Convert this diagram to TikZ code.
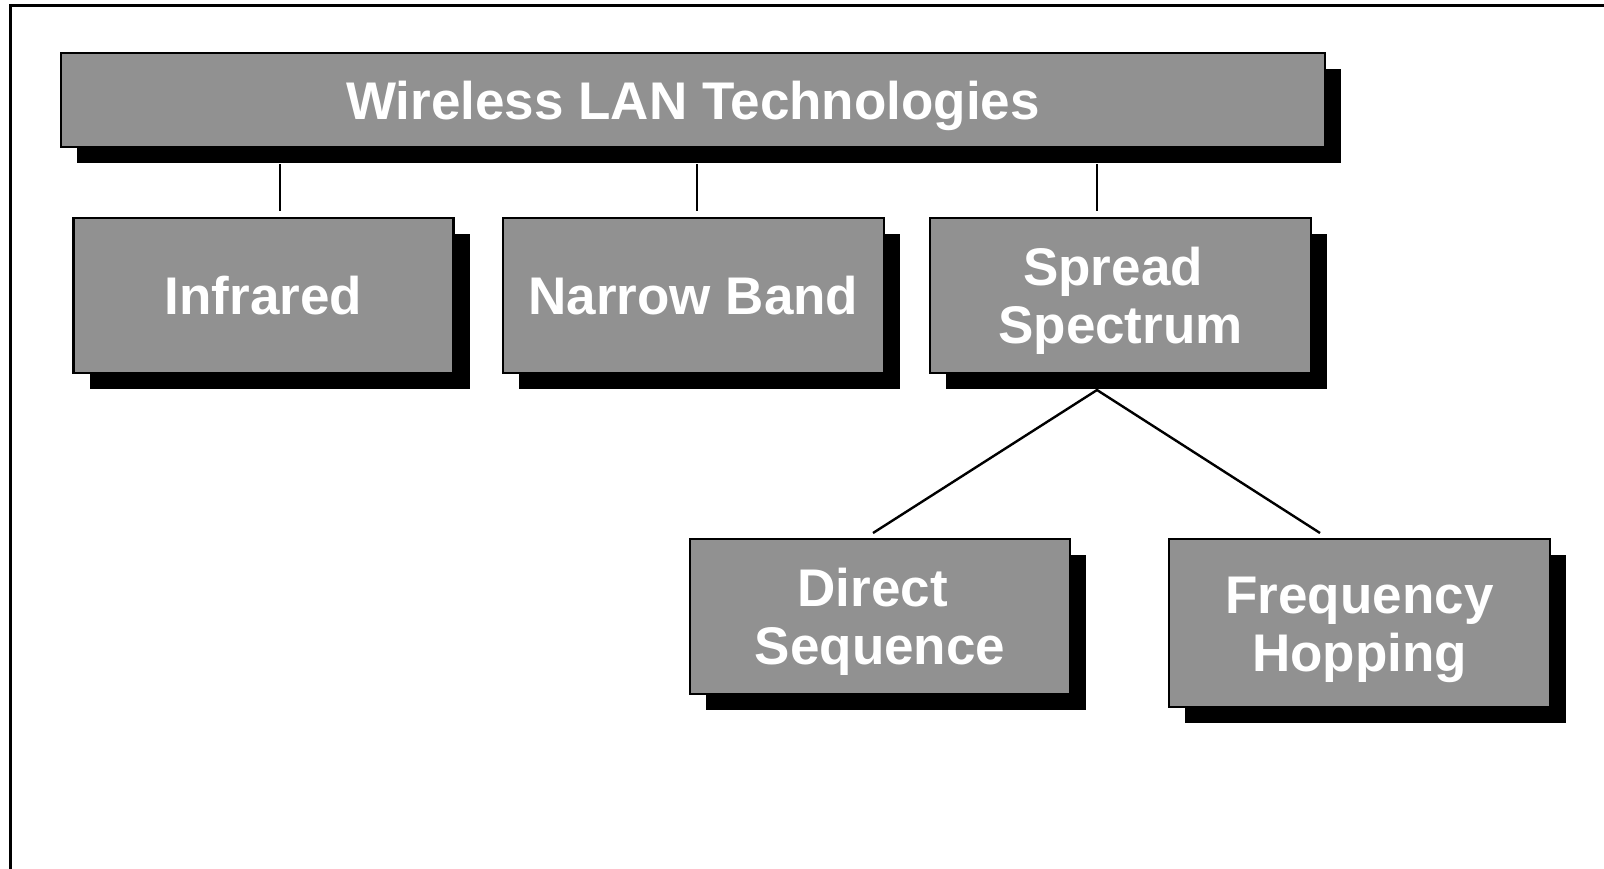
\documentclass[tikz,border=0pt]{standalone}
\usepackage{fontspec}
\setmainfont{Liberation Sans}
\usetikzlibrary{shadows}
\definecolor{boxgray}{RGB}{145,145,145}
\tikzset{
  box/.style={draw=black, line width=1.2pt, fill=boxgray, text=white,
    font=\bfseries\fontsize{26.5}{29}\selectfont, align=center,
    inner sep=0pt, minimum width=190pt, minimum height=77.5pt,
    text height=19pt, text depth=0pt,
    drop shadow={shadow xshift=8pt, shadow yshift=-8pt, fill=black, opacity=1}},
  twolines/.style={text height=48pt, text depth=0pt},
  link/.style={line width=1.2pt, line cap=butt},
  frame/.style={line width=1.5pt}
}
\begin{document}
\begin{tikzpicture}[x=0.5pt,y=-0.5pt]
\useasboundingbox (0,0) rectangle (1604,868);
% outer frame, open to the right and bottom
\draw[frame] (10,880) -- (10,5) -- (1620,5);

% boxes
\node[box, minimum width=632pt, minimum height=47pt] (title) at (693,100) {Wireless LAN Technologies};
\node[box] (infrared) at (263.5,295.5) {Infrared};
\node[box, minimum width=190.5pt] (narrow) at (693.5,295.5) {Narrow Band};
\node[box, minimum width=190.5pt, twolines] (spread) at (1120.5,295.5) {Spread\kern.28em\\Spectrum};
\node[box, twolines] (direct) at (880,616.5) {Direct\kern.28em\\Sequence};
\node[box, minimum width=190.5pt, minimum height=84pt, twolines] (freq) at (1359.5,623) {Frequency\\Hopping};

% junction points below the shadows
\coordinate (j1) at (280,164);
\coordinate (j2) at (697,164);
\coordinate (j3) at (1097,164);
\coordinate (j4) at (1097,390);
\coordinate (d1) at (873,533);
\coordinate (d2) at (1320,533);

% connectors
\draw[link] (j1) -- ([yshift=3pt]j1 |- infrared.north);
\draw[link] (j2) -- ([yshift=3pt]j2 |- narrow.north);
\draw[link] (j3) -- ([yshift=3pt]j3 |- spread.north);
\draw[link] (d1) -- (j4) -- (d2);
\end{tikzpicture}
\end{document}
